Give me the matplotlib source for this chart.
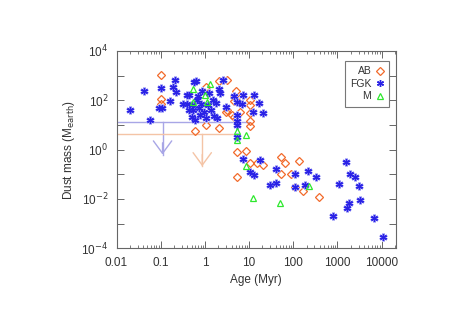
import numpy as np
import matplotlib
matplotlib.use("Agg")
import matplotlib.pyplot as plt
from matplotlib.ticker import LogLocator, FixedLocator, NullFormatter, FixedFormatter
from matplotlib.lines import Line2D

plt.rcParams['font.family'] = ['Liberation Sans', 'DejaVu Sans']

# ---- data (age in Myr, dust mass in M_earth) ----
ab_age = [0.10, 0.10, 0.10, 0.59, 1.04, 1.08, 2.07, 3.09, 5.1, 4.5, 6.4, 10.4, 10.4,
          3.2, 2.93, 6.2, 4.2, 4.5, 10.4, 10.4, 10.4, 2.07, 5.2, 8.3, 10.4, 14.7,
          20.8, 5.2, 53, 66, 53, 132, 89, 108, 163, 374, 4.5]
ab_mass = [1050, 118, 72, 5.5, 10, 340, 610, 650, 235, 90, 142, 105, 66,
           41, 35, 35, 26, 22, 30, 14, 8.7, 7.5, 0.81, 0.85, 0.29, 0.29,
           0.23, 0.076, 0.49, 0.29, 0.104, 0.36, 0.104, 0.030, 0.021, 0.0118, 142]

fgk_age = [0.020, 0.041, 0.056, 0.104, 0.19, 0.21, 0.22, 0.16, 0.090, 0.105, 0.325,
           0.40, 0.40, 0.44, 0.50, 0.55, 0.50, 0.56, 0.62, 0.87, 1.23, 2.6, 2.07,
           2.18, 4.5, 7.4, 12.8, 16.5, 20.8, 12.4, 2.93, 1.9, 5.2, 5.2, 5.2, 5.2,
           7.4, 18, 10.4, 12.8, 41.5, 41.5, 29.3, 108, 108, 216, 327, 188, 1060,
           1580, 1945, 2520, 2990, 3270, 1780, 1640, 775, 6770, 10600,
           0.65, 0.72, 0.80, 0.93, 1.15, 1.35, 1.49, 1.04, 0.76, 0.59, 1.57, 1.75,
           5.4, 7.0, 0.43, 0.68]
fgk_mass = [41, 235, 16, 320, 360, 670, 220, 98, 47, 47, 72,
            72, 167, 160, 66, 41, 22, 575, 630, 228, 195, 670, 283,
            195, 152, 167, 167, 77, 30, 32, 56, 19, 26, 14, 10, 3.3,
            0.43, 0.39, 0.126, 0.092, 0.17, 0.045, 0.036, 0.104, 0.030, 0.14, 0.081, 0.036, 0.0385,
            0.31, 0.098, 0.081, 0.033, 0.0087, 0.0070, 0.0041, 0.0020, 0.0017, 0.00029,
            105, 50, 72, 34, 66, 41, 105, 20, 26, 16, 23.6, 77,
            82, 72, 41, 152]

m_age = [0.55, 1.30, 1.0, 0.55, 1.13, 5.2, 5.2, 8.3, 8.3, 12.4, 51, 223]
m_mass = [283, 465, 167, 82, 82, 5.5, 2.5, 3.9, 0.21, 0.011, 0.0070, 0.033]

# upper limits: (age range start, end, mass level, arrow age, arrow tip)
lim_fgk = [0.01, 10.0, 12.6, 0.11, 0.63]
lim_ab = [0.01, 5.0, 4.2, 0.87, 0.21]

xticks = [0.01, 0.1, 1, 10, 100, 1000, 10000]
xticklabels = ['0.01', '0.1', '1', '10', '100', '1000', '10000']
ytick_labels = ['10$^{-4}$', '', '10$^{-2}$', '', '10$^{0}$', '', '10$^{2}$', '', '10$^{4}$']

c_ab = '#f26a2a'
c_fgk = '#2a22e6'
c_m = '#2ee82e'
c_text = '#333333'
c_axis = '#666666'

fig = plt.figure(figsize=(4.68, 3.31), dpi=100)
ax = fig.add_axes([0.249, 0.250, 0.597, 0.596])
ax.set_xscale('log')
ax.set_yscale('log')
ax.set_xlim(0.01, 2.1e4)
ax.set_ylim(1e-4, 1e4)

# upper limit lines with open arrows
def upper_limit(lim, color):
    x0, x1, yl, xa, ytip = lim
    ax.plot([x0, x1], [yl, yl], color=color, lw=1.0, zorder=1)
    ax.plot([xa, xa], [yl, ytip], color=color, lw=1.0, zorder=1)
    ax.annotate('', xy=(xa, ytip), xytext=(xa, ytip * 3.0),
                arrowprops=dict(arrowstyle='->,head_length=0.75,head_width=0.55',
                                mutation_scale=12, color=color, lw=1.0,
                                shrinkA=0, shrinkB=0), zorder=1)

upper_limit(lim_fgk, '#a8a6e6')
upper_limit(lim_ab, '#f4c4a6')

ax.plot(ab_age, ab_mass, ls='none', marker='D', ms=4.2, mfc='none', mec=c_ab, mew=0.9, zorder=3)
ax.plot(fgk_age, fgk_mass, ls='none', marker=(6, 2, 0), ms=6, mec='#b8b8f8', mew=1.8, zorder=4)
ax.plot(fgk_age, fgk_mass, ls='none', marker=(6, 2, 0), ms=5, mec=c_fgk, mew=1.0, zorder=5)
ax.plot(m_age, m_mass, ls='none', marker='^', ms=5, mfc='none', mec=c_m, mew=0.9, zorder=6)

# ticks
ax.xaxis.set_major_locator(FixedLocator(xticks))
ax.xaxis.set_major_formatter(FixedFormatter(xticklabels))
ax.xaxis.set_minor_locator(LogLocator(base=10, subs=np.arange(2, 10), numticks=20))
ax.xaxis.set_minor_formatter(NullFormatter())
ax.yaxis.set_major_locator(FixedLocator([10.0**k for k in range(-4, 5)]))
ax.yaxis.set_major_formatter(FixedFormatter(ytick_labels))
ax.yaxis.set_minor_locator(FixedLocator([]))
ax.tick_params(which='both', direction='in', top=True, right=True, colors=c_axis,
               labelcolor=c_text, labelsize=8.5)
ax.tick_params(which='major', length=5, width=0.7, pad=6)
ax.tick_params(which='minor', length=2.5, width=0.6)
for s in ax.spines.values():
    s.set_color(c_axis)
    s.set_linewidth(0.8)

ax.set_xlabel('Age (Myr)', fontsize=8.5, color=c_text, labelpad=4)
ax.set_ylabel('Dust mass (M$_{\\mathrm{earth}}$)', fontsize=8.5, color=c_text, labelpad=3)

handles = [
    Line2D([], [], ls='none', marker='D', ms=4.2, mfc='none', mec=c_ab, mew=0.9),
    Line2D([], [], ls='none', marker=(6, 2, 0), ms=5, mec=c_fgk, mew=1.0),
    Line2D([], [], ls='none', marker='^', ms=5, mfc='none', mec=c_m, mew=0.9),
]
leg = ax.legend(handles, ['AB', 'FGK', 'M'], loc='upper right', bbox_to_anchor=(0.975, 0.949),
                borderaxespad=0, markerfirst=False, fancybox=False, fontsize=7.5,
                handlelength=0.8, handletextpad=0.4, labelspacing=0.25, borderpad=0.5,
                framealpha=1, edgecolor='#777777')
leg.get_frame().set_linewidth(0.8)
for t in leg.get_texts():
    t.set_color(c_text)

fig.savefig('out.png', dpi=100)
